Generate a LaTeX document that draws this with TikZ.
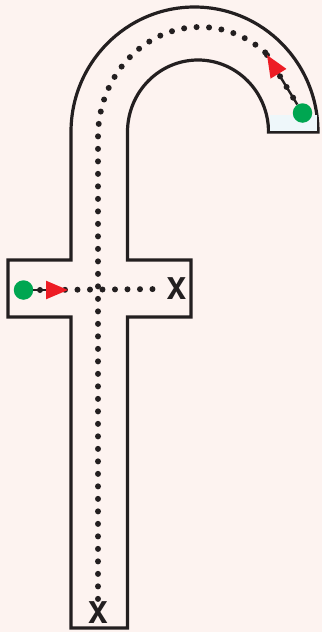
\documentclass[tikz,border=0pt]{standalone}
\usepackage{fontspec}
\newfontfamily\xfont{TeX Gyre Heros}
\usetikzlibrary{arrows.meta,calc,positioning}
\definecolor{FxBack}{HTML}{FDF3F0}
\definecolor{FxInk}{HTML}{231F20}
\definecolor{FxGreen}{HTML}{00A651}
\definecolor{FxRed}{HTML}{ED1C24}
\definecolor{FxIce}{HTML}{EEF7FA}
\begin{document}
\begin{tikzpicture}[x=1pt,y=-1pt,
  start/.style={circle,fill=FxGreen,minimum size=19.5pt,inner sep=0pt},
  finish/.style={font=\xfont\bfseries\fontsize{30}{30}\selectfont,inner sep=0pt,text=FxInk},
  trail/.style={FxInk,line width=6pt,line cap=round,dash pattern=on 0pt off 12.5pt},
  push/.style={FxInk,line width=2.4pt,-{Triangle[length=22pt,width=18pt,color=FxRed]}}]
  \fill[FxBack] (0,0) rectangle (322,632);
  \useasboundingbox (0,0) rectangle (322,632);
  % letter outline
  \draw[FxInk,line width=3.2pt,fill=FxBack] (71,628) -- (71,317) -- (8,317) -- (8,260) -- (71,260) -- (71,132)
    arc (180:360:123.5 and 125) -- (268.5,132) arc (360:180:70.5 and 72) -- (127.5,260) -- (191,260)
    -- (191,317) -- (127.5,317) -- (127.5,628) -- cycle;
  \fill[FxIce] (270,115) rectangle (316.5,130.5);
  % ends
  \node[start] (hookstart) at (302.5,113) {};
  \node[start] (barstart) at (23.5,290) {};
  \node[finish] (barend) at (176.5,289) {X};
  \node[finish] (stemend) at (98,613) {X};
  \coordinate (bartip) at (68,290);
  \coordinate (hooktip) at (267,55);
  % dotted paths
  \draw[trail] ($(stemend.north)+(0,-3)$) -- (98,137) arc (180:312:102 and 110);
  \draw[trail] ($(barstart)+(16.5,0)$) -- ($(barend.west)+(-2,0)$);
  \draw[trail] (hooktip) -- (hookstart);
  % pushes
  \draw[push] (barstart) -- (bartip);
  \draw[push] (hookstart) -- (hooktip);
\end{tikzpicture}
\end{document}
